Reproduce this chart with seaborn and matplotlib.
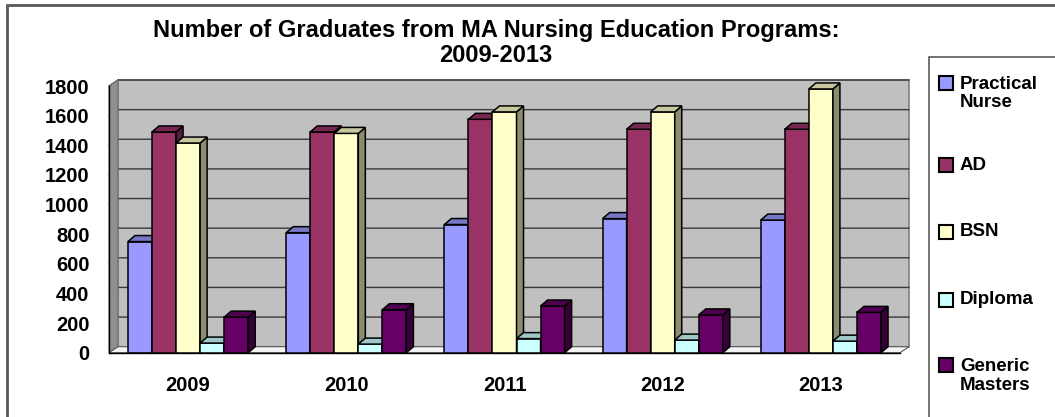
import matplotlib
matplotlib.use("Agg")
import matplotlib.pyplot as plt
import matplotlib.transforms as mtransforms
from matplotlib.patches import Polygon, Rectangle
from matplotlib.lines import Line2D
from matplotlib.colors import to_rgb
import pandas as pd
import seaborn as sns

years = ["2009", "2010", "2011", "2012", "2013"]
programs = ["Practical\nNurse", "AD", "BSN", "Diploma", "Generic\nMasters"]
practical_nurse = [750, 810, 865, 905, 895]
ad = [1490, 1490, 1575, 1508, 1508]
bsn = [1415, 1480, 1625, 1625, 1780]
diploma = [65, 58, 95, 85, 78]
generic_masters = [240, 290, 315, 255, 272]
colors = ["#9999FF", "#993366", "#FFFFCC", "#CCFFFF", "#660066"]
y_ticks = [0, 200, 400, 600, 800, 1000, 1200, 1400, 1600, 1800]

W, H = 1055, 417
WALL_DX, WALL_DY = 9, 6   # depth of the back wall in pixels
BAR_DX, BAR_DY = 7, 6     # depth of each bar in pixels

series = [practical_nurse, ad, bsn, diploma, generic_masters]
rows = []
for prog, vals in zip(programs, series):
    for yr, v in zip(years, vals):
        rows.append((yr, prog, v))
df = pd.DataFrame(rows, columns=["Year", "Program", "Graduates"])

sns.set_style("white")
plt.rcParams["font.family"] = ["Liberation Sans", "DejaVu Sans"]
plt.rcParams["text.color"] = "black"
plt.rcParams["xtick.color"] = "black"
plt.rcParams["ytick.color"] = "black"

fig = plt.figure(figsize=(W / 100, H / 100), dpi=100)
ax = fig.add_axes([109 / W, 64.3 / H, 791 / W, 266.7 / H])

sns.barplot(data=df, x="Year", y="Graduates", hue="Program", order=years,
            hue_order=programs, palette=dict(zip(programs, colors)),
            width=0.76, gap=0, saturation=1, edgecolor="black", linewidth=1.1,
            legend=False, ax=ax)

ax.set_ylim(0, 1800)
ax.set_xlim(-0.5, len(years) - 0.5)
ax.set_facecolor("none")
ax.patch.set_visible(False)
for s in ["top", "right"]:
    ax.spines[s].set_visible(False)
for s in ["left", "bottom"]:
    ax.spines[s].set_color("black")
    ax.spines[s].set_linewidth(1.0)

ax.set_yticks(y_ticks)
ax.set_yticklabels([str(t) for t in y_ticks], fontsize=14.5, fontweight="bold", color="black")
ax.tick_params(axis="y", direction="out", length=5, width=1, color="black", pad=9)
ax.set_xticks(range(len(years)))
ax.set_xticklabels(years, fontsize=14.5, fontweight="bold", color="black")
ax.set_xticks([i - 0.5 for i in range(len(years) + 1)], minor=True)
ax.tick_params(axis="x", which="major", length=0, pad=17)
ax.tick_params(axis="x", which="minor", direction="out", length=5, width=1, color="black")
ax.set_xlabel("")
ax.set_ylabel("")

# 3D look: everything below is derived from the axes' own data transform
ident = mtransforms.IdentityTransform()
to_px = ax.transData.transform
x0, y0 = to_px((-0.5, 0))
x1, y1 = to_px((len(years) - 0.5, 1800))

back = Rectangle((x0 + WALL_DX, y0 + WALL_DY), x1 - x0, y1 - y0, transform=ident,
                 facecolor="#C0C0C0", edgecolor="#7f7f7f", linewidth=1.2,
                 zorder=0.5, clip_on=False)
ax.add_patch(back)
left_wall = Polygon([(x0, y0), (x0, y1), (x0 + WALL_DX, y1 + WALL_DY), (x0 + WALL_DX, y0 + WALL_DY)],
                    closed=True, transform=ident, facecolor="#8f8f8f", edgecolor="#6f6f6f",
                    linewidth=0.8, zorder=0.7, clip_on=False)
ax.add_patch(left_wall)
floor = Polygon([(x0, y0), (x1, y0), (x1 + WALL_DX, y0 + WALL_DY), (x0 + WALL_DX, y0 + WALL_DY)],
                closed=True, transform=ident, facecolor="#f4f4f4", edgecolor="#555555",
                linewidth=0.8, zorder=0.8, clip_on=False)
ax.add_patch(floor)
for t in y_ticks[1:]:
    _, yy = to_px((0, t))
    ax.add_line(Line2D([x0, x0 + WALL_DX, x1 + WALL_DX], [yy, yy + WALL_DY, yy + WALL_DY],
                       transform=ident, color="#3a3a3a", linewidth=1.0, zorder=0.6, clip_on=False))


def shade(c, f):
    r, g, b = to_rgb(c)
    return (r * f, g * f, b * f)


bars = sorted([p for p in ax.patches if isinstance(p, Rectangle) and p.get_height() > 0
               and p is not back], key=lambda p: p.get_x())
for i, p in enumerate(bars):
    z = 2 + 3 * i
    p.set_zorder(z)
    bx0, by0 = to_px((p.get_x(), 0))
    bx1, by1 = to_px((p.get_x() + p.get_width(), p.get_height()))
    fc = p.get_facecolor()
    side = Polygon([(bx1, by0), (bx1, by1), (bx1 + BAR_DX, by1 + BAR_DY), (bx1 + BAR_DX, by0 + BAR_DY)],
                   closed=True, transform=ident, facecolor=shade(fc, 0.55), edgecolor="black",
                   linewidth=1.1, zorder=z + 1, clip_on=False)
    top = Polygon([(bx0, by1), (bx1, by1), (bx1 + BAR_DX, by1 + BAR_DY), (bx0 + BAR_DX, by1 + BAR_DY)],
                  closed=True, transform=ident, facecolor=shade(fc, 0.78), edgecolor="black",
                  linewidth=1.1, zorder=z + 1, clip_on=False)
    ax.add_patch(side)
    ax.add_patch(top)

# title
fig.text(496 / W, 1 - 43 / H, "Number of Graduates from MA Nursing Education Programs:\n2009-2013",
         ha="center", va="center", fontsize=17, fontweight="bold", linespacing=1.1,
         color="black", family=["Liberation Sans Narrow", "Liberation Sans", "DejaVu Sans"])

# outer chart frame and legend box
fig.add_artist(Rectangle((7, -10), W, H - 5 + 10, transform=ident, fill=False,
                         edgecolor="#5a5a5a", linewidth=2.0))
fig.add_artist(Rectangle((929, -10), W, H - 57 + 10, transform=ident, fill=False,
                         edgecolor="#5a5a5a", linewidth=1.2))

square_y = [83, 165, 232, 300, 365]
label_y = [93.5, 165, 232, 300, 376]
for prog, c, sy, ly in zip(programs, colors, square_y, label_y):
    fig.add_artist(Rectangle((939, H - sy - 7), 14, 14, transform=ident, facecolor=c,
                             edgecolor="black", linewidth=1.5))
    fig.text(960 / W, 1 - ly / H, prog, ha="left", va="center", fontsize=13.5,
             fontweight="bold", linespacing=1.12, color="black")

fig.savefig("out.png", dpi=100)
